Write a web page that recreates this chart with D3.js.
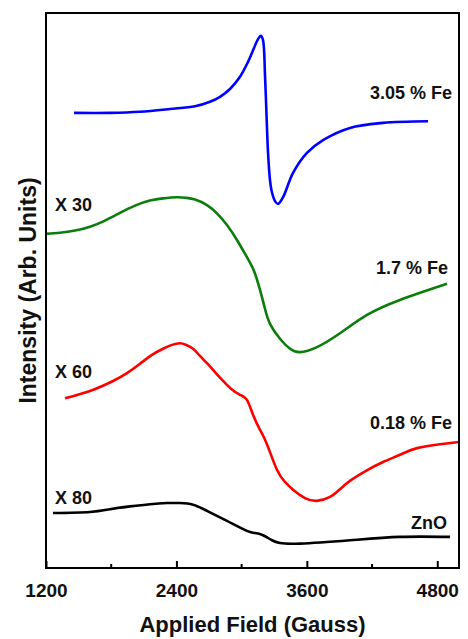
<!DOCTYPE html>
<html>
<head>
<meta charset="utf-8">
<script src="https://cdn.jsdelivr.net/npm/d3@7"></script>
<style>
  body { margin: 0; background: #fff; }
  text { font-family: "Liberation Sans", Arial, sans-serif; font-weight: bold; fill: #111; }
</style>
</head>
<body>
<div id="chart"></div>
<script>
// field values (Gauss) and intensity (arb. units, offset per sample)
var field305 = [1458, 1789, 2065, 2341, 2571, 2709, 2801, 2893, 2985, 3059, 3114, 3151, 3178, 3197, 3215, 3229, 3243, 3261, 3279, 3307, 3335, 3381, 3473, 3601, 3749, 3997, 4301, 4715];
var int305   = [82.0, 82.0, 82.2, 82.7, 83.2, 84.0, 84.9, 86.3, 88.5, 91.2, 93.7, 95.3, 95.9, 95.1, 88.8, 81.6, 74.8, 69.9, 67.7, 66.1, 65.6, 66.8, 71.2, 74.8, 77.1, 79.3, 80.2, 80.5];

var field17 = [1200, 1329, 1467, 1605, 1743, 1881, 2019, 2157, 2277, 2405, 2488, 2571, 2681, 2773, 2865, 2957, 3049, 3114, 3169, 3215, 3261, 3353, 3445, 3537, 3693, 3905, 4154, 4457, 4890];
var int17   = [60.2, 60.4, 60.8, 61.5, 62.6, 64.0, 65.3, 66.2, 66.6, 66.8, 66.7, 66.4, 65.4, 63.9, 61.8, 59.1, 56.0, 53.5, 50.1, 46.7, 44.0, 41.3, 39.5, 38.9, 39.8, 42.3, 45.6, 48.3, 51.2];

var field018 = [1375, 1605, 1817, 1945, 2065, 2175, 2277, 2359, 2433, 2488, 2553, 2617, 2681, 2755, 2829, 2902, 2985, 3049, 3105, 3169, 3233, 3325, 3399, 3473, 3583, 3693, 3813, 3905, 3997, 4144, 4301, 4457, 4614, 4825, 5000];
var int018   = [30.6, 31.9, 33.7, 35.1, 36.8, 38.4, 39.5, 40.2, 40.5, 40.2, 39.5, 38.2, 36.9, 35.3, 33.7, 32.3, 31.2, 30.3, 27.6, 24.9, 22.3, 17.7, 15.5, 14.1, 12.6, 12.1, 12.8, 14.2, 15.7, 17.5, 19.1, 20.4, 21.6, 22.3, 22.7];

var fieldZnO = [1264, 1605, 1789, 1973, 2157, 2313, 2433, 2553, 2681, 2865, 3049, 3123, 3197, 3279, 3353, 3537, 3997, 4457, 4917];
var intZnO   = [9.9, 10.1, 10.6, 11.1, 11.5, 11.7, 11.7, 11.4, 10.3, 8.5, 6.7, 6.3, 5.9, 5.0, 4.5, 4.4, 5.0, 5.6, 5.6];

var sampleNames = ["3.05 % Fe", "1.7 % Fe", "0.18 % Fe", "ZnO"];
var gainLabels = ["X 30", "X 60", "X 80"];
var majorTicks = [1200, 2400, 3600, 4800];
var minorTicks = [1800, 3000, 4200];

var W = 468, H = 639;
var margin = { top: 13, left: 46, right: 9, bottom: 71 };

var svg = d3.select("#chart").append("svg")
    .attr("width", W)
    .attr("height", H);

var x = d3.scaleLinear().domain([1200, 5000]).range([margin.left, W - margin.right]);
var y = d3.scaleLinear().domain([0, 100]).range([H - margin.bottom, margin.top]);

// blue has a sharp peak, the others are broad and smooth
var series = [
    { f: field305, v: int305, color: "#0000ff", curve: d3.curveCatmullRom.alpha(0.5) },
    { f: field17, v: int17, color: "#0b7d0b", curve: d3.curveNatural },
    { f: field018, v: int018, color: "#ff0000", curve: d3.curveNatural },
    { f: fieldZnO, v: intZnO, color: "#000000", curve: d3.curveNatural }
];

series.forEach(function (s) {
    var line = d3.line()
        .x(function (d) { return x(d[0]); })
        .y(function (d) { return y(d[1]); })
        .curve(s.curve);
    svg.append("path")
        .datum(d3.zip(s.f, s.v))
        .attr("fill", "none")
        .attr("stroke", s.color)
        .attr("stroke-width", 2.6)
        .attr("stroke-linejoin", "round")
        .attr("d", line);
});

// frame
svg.append("rect")
    .attr("x", x(1200)).attr("y", y(100))
    .attr("width", x(5000) - x(1200))
    .attr("height", y(0) - y(100))
    .attr("fill", "none")
    .attr("stroke", "#000")
    .attr("stroke-width", 2);

// bottom axis, ticks inside
var axis = svg.append("g")
    .attr("transform", "translate(0," + y(0) + ")")
    .call(d3.axisBottom(x).tickValues(majorTicks).tickFormat(d3.format("d"))
        .tickSizeInner(-7).tickSizeOuter(0).tickPadding(16));
axis.select(".domain").remove();
axis.selectAll("line").attr("stroke-width", 2);
axis.selectAll("text")
    .attr("font-size", 19)
    .style("font-family", "'Liberation Sans', Arial, sans-serif")
    .style("font-weight", "bold")
    .attr("fill", "#111");

svg.append("g").selectAll("line")
    .data(minorTicks).enter().append("line")
    .attr("x1", function (d) { return x(d); })
    .attr("x2", function (d) { return x(d); })
    .attr("y1", y(0))
    .attr("y2", y(0) - 4)
    .attr("stroke", "#000")
    .attr("stroke-width", 2);

// axis titles
svg.append("text")
    .attr("x", (x(1200) + x(5000)) / 2)
    .attr("y", 632)
    .attr("text-anchor", "middle")
    .attr("font-size", 22)
    .text("Applied Field (Gauss)");

svg.append("text")
    .attr("transform", "translate(36," + (y(50)) + ") rotate(-90)")
    .attr("text-anchor", "middle")
    .attr("font-size", 23)
    .text("Intensity (Arb. Units)");

// sample labels
var nameY = [85.7, 54.1, 26.2, 8.1];
svg.selectAll(".name")
    .data(sampleNames).enter().append("text")
    .attr("class", "name")
    .attr("x", function (d, i) { return [452, 448, 452, 447][i]; })
    .attr("y", function (d, i) { return y(nameY[i]); })
    .attr("dy", "0.35em")
    .attr("text-anchor", "end")
    .attr("font-size", 18)
    .text(function (d) { return d; });

var gainY = [65.4, 35.3, 12.6];
svg.selectAll(".gain")
    .data(gainLabels).enter().append("text")
    .attr("class", "gain")
    .attr("x", 55)
    .attr("y", function (d, i) { return y(gainY[i]); })
    .attr("dy", "0.35em")
    .attr("font-size", 18)
    .text(function (d) { return d; });
</script>
</body>
</html>
